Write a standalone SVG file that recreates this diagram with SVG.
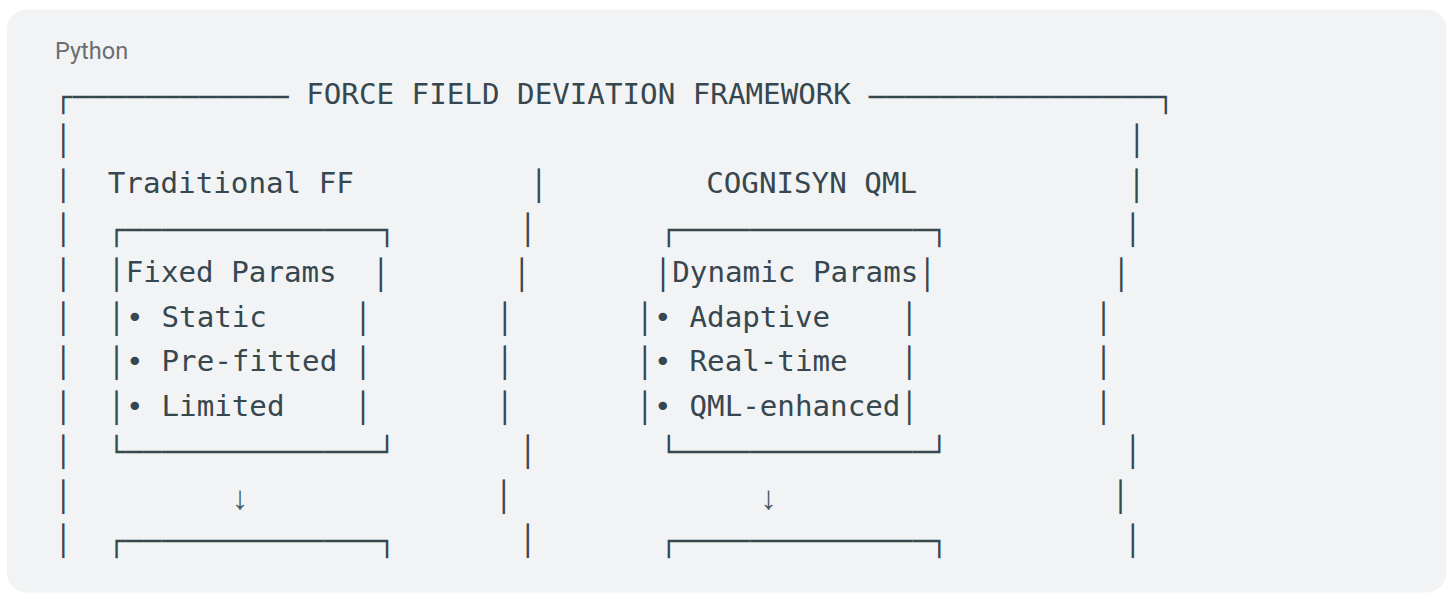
<svg xmlns="http://www.w3.org/2000/svg" width="1453" height="596" viewBox="0 0 1453 596">
<style>
.t{font-family:"DejaVu Sans Mono","Liberation Mono",monospace;font-size:29.2px;fill:#37474f;white-space:pre}
.b{font-family:"DejaVu Sans Mono","Liberation Mono",monospace;font-size:29.2px;fill:#37474f}
.ar{font-family:"Liberation Sans","DejaVu Sans",sans-serif;font-size:33px;fill:#4a5a63;text-anchor:middle}
.lbl{font-family:Roboto,"Liberation Sans",sans-serif;font-size:23.5px;fill:#6b6e70}
</style>
<rect x="7" y="9.5" width="1439.5" height="583" rx="20" fill="#f1f3f4"/>
<text class="lbl" x="55" y="58.7">Python</text>

<g id="frame">
  <text class="b" x="54.6" y="106.7" textLength="234" lengthAdjust="spacing">┌────────────</text>
  <text class="t" x="306.2" y="104.4">FORCE FIELD DEVIATION FRAMEWORK</text>
  <text class="b" x="868.7" y="106.7" textLength="306" lengthAdjust="spacing">────────────────┐</text>
  <text class="b" x="54.6" y="151.1">│</text>
  <text class="b" x="1128" y="151.1">│</text>
  <text class="b" x="54.6" y="195.6">│</text>
  <text class="b" x="530" y="195.6">│</text>
  <text class="b" x="1127.7" y="195.6">│</text>
  <text class="b" x="54.6" y="240">│</text>
  <text class="b" x="519" y="240">│</text>
  <text class="b" x="1123.9" y="240">│</text>
  <text class="b" x="54.6" y="284.5">│</text>
  <text class="b" x="513" y="284.5">│</text>
  <text class="b" x="1112.4" y="284.5">│</text>
  <text class="b" x="54.6" y="328.9">│</text>
  <text class="b" x="496" y="328.9">│</text>
  <text class="b" x="1094.8" y="328.9">│</text>
  <text class="b" x="54.6" y="373.3">│</text>
  <text class="b" x="496" y="373.3">│</text>
  <text class="b" x="1094.8" y="373.3">│</text>
  <text class="b" x="54.6" y="417.8">│</text>
  <text class="b" x="496" y="417.8">│</text>
  <text class="b" x="1094.8" y="417.8">│</text>
  <text class="b" x="54.6" y="462.2">│</text>
  <text class="b" x="519" y="462.2">│</text>
  <text class="b" x="1124" y="462.2">│</text>
  <text class="b" x="54.6" y="506.7">│</text>
  <text class="b" x="494.9" y="506.7">│</text>
  <text class="b" x="1111.7" y="506.7">│</text>
  <text class="b" x="54.6" y="551.1">│</text>
  <text class="b" x="519" y="551.1">│</text>
  <text class="b" x="1124" y="551.1">│</text>
</g>

<g id="traditional-ff">
  <text class="t" x="107.8" y="193.3">Traditional FF</text>
  <text class="b" x="107.8" y="240" textLength="288" lengthAdjust="spacing">┌──────────────┐</text>
  <text class="b" x="107.8" y="284.5">│</text>
  <text class="t" x="125.8" y="282.2">Fixed Params</text>
  <text class="b" x="372" y="284.5">│</text>
  <text class="b" x="107.8" y="328.9">│</text>
  <text class="t" x="126" y="326.6">•</text>
  <text class="t" x="161.5" y="326.6">Static</text>
  <text class="b" x="354.3" y="328.9">│</text>
  <text class="b" x="107.8" y="373.3">│</text>
  <text class="t" x="126" y="371">•</text>
  <text class="t" x="161.5" y="371">Pre-fitted</text>
  <text class="b" x="354.3" y="373.3">│</text>
  <text class="b" x="107.8" y="417.8">│</text>
  <text class="t" x="126" y="415.5">•</text>
  <text class="t" x="161.5" y="415.5">Limited</text>
  <text class="b" x="354.3" y="417.8">│</text>
  <text class="b" x="107.8" y="462.2" textLength="288" lengthAdjust="spacing">└──────────────┘</text>
  <text class="b" x="107.8" y="551.1" textLength="288" lengthAdjust="spacing">┌──────────────┐</text>
</g>

<g id="cognisyn-qml">
  <text class="t" x="706.2" y="193.3">COGNISYN QML</text>
  <text class="b" x="660" y="240" textLength="288" lengthAdjust="spacing">┌──────────────┐</text>
  <text class="b" x="654.3" y="284.5">│</text>
  <text class="t" x="672.3" y="282.2">Dynamic Params</text>
  <text class="b" x="918.5" y="284.5">│</text>
  <text class="b" x="635.9" y="328.9">│</text>
  <text class="t" x="654.1" y="326.6">•</text>
  <text class="t" x="689.5" y="326.6">Adaptive</text>
  <text class="b" x="900.6" y="328.9">│</text>
  <text class="b" x="635.9" y="373.3">│</text>
  <text class="t" x="654.1" y="371">•</text>
  <text class="t" x="689.5" y="371">Real-time</text>
  <text class="b" x="900.6" y="373.3">│</text>
  <text class="b" x="635.9" y="417.8">│</text>
  <text class="t" x="654.1" y="415.5">•</text>
  <text class="t" x="689.5" y="415.5">QML-enhanced</text>
  <text class="b" x="900.6" y="417.8">│</text>
  <text class="b" x="660" y="462.2" textLength="288" lengthAdjust="spacing">└──────────────┘</text>
  <text class="b" x="660" y="551.1" textLength="288" lengthAdjust="spacing">┌──────────────┐</text>
</g>

<g id="connectors">
  <text class="ar" x="240" y="509">↓</text>
  <text class="ar" x="768.6" y="509">↓</text>
</g>
</svg>
